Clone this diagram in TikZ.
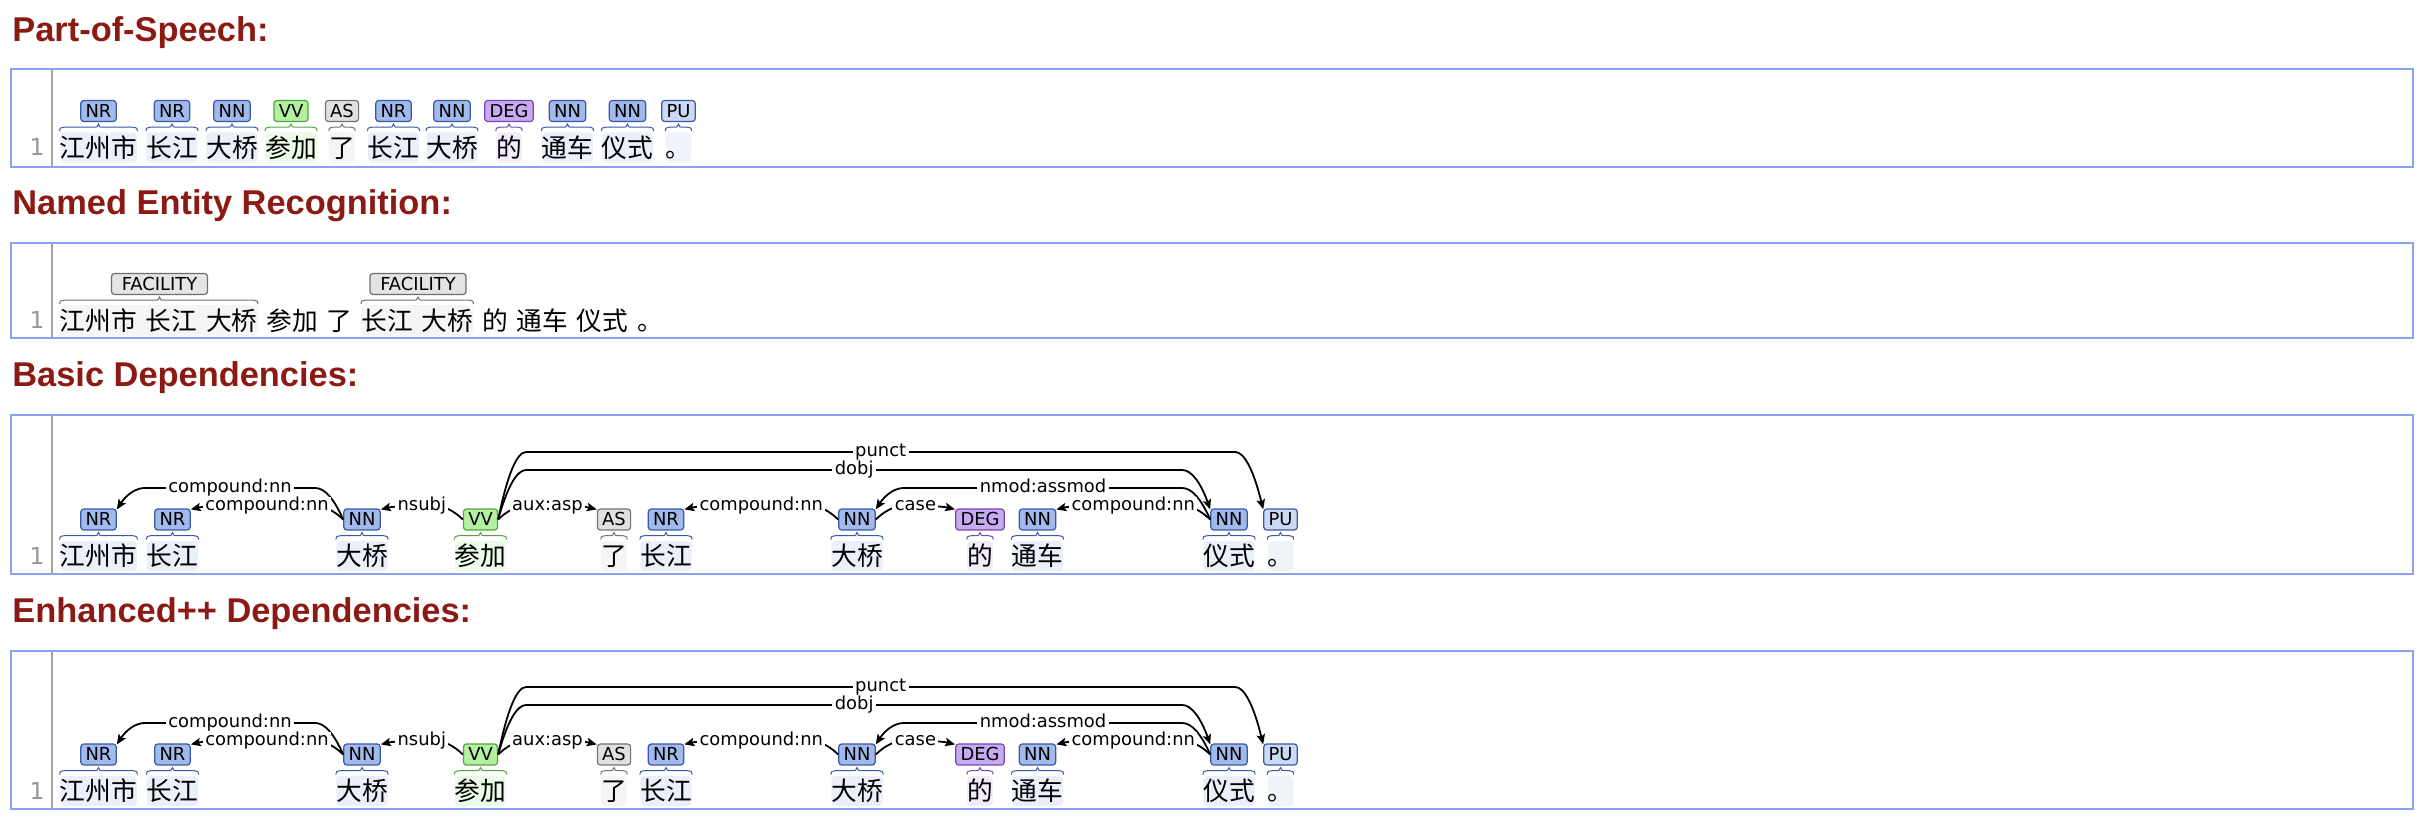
\documentclass[tikz,border=0pt]{standalone}
\usepackage{fontspec}
\usetikzlibrary{calc,arrows.meta,backgrounds}
\newfontfamily\cjkfont{Noto Sans CJK SC}
\newfontfamily\labfont{DejaVu Sans}
\newfontfamily\headfont{Liberation Sans}
\definecolor{titlered}{RGB}{140,26,20}
\definecolor{boxblue}{RGB}{138,163,240}
\definecolor{sepgray}{RGB}{165,165,165}
\definecolor{numgray}{RGB}{150,150,150}
\definecolor{nnF}{RGB}{162,185,235}
\definecolor{nnD}{RGB}{58,88,168}
\definecolor{nnB}{RGB}{234,239,250}
\definecolor{puF}{RGB}{204,217,245}
\definecolor{puD}{RGB}{58,88,168}
\definecolor{puB}{RGB}{239,243,250}
\definecolor{vvF}{RGB}{180,240,160}
\definecolor{vvD}{RGB}{80,165,60}
\definecolor{vvB}{RGB}{236,250,232}
\definecolor{asF}{RGB}{224,224,224}
\definecolor{asD}{RGB}{115,115,115}
\definecolor{asB}{RGB}{245,245,245}
\definecolor{degF}{RGB}{200,170,240}
\definecolor{degD}{RGB}{120,70,180}
\definecolor{degB}{RGB}{242,236,250}
\definecolor{entF}{RGB}{228,228,228}
\definecolor{entD}{RGB}{110,110,110}
\definecolor{entB}{RGB}{245,245,245}

\tikzset{
  tagbox/.style={draw=#1D, fill=#1F, rounded corners=1.5pt, line width=0.6pt,
    font=\labfont\fontsize{8.95}{10}\selectfont, text=black,
    inner xsep=2.4pt, inner ysep=0pt, minimum height=10.5pt,
    text height=6.5pt, text depth=0pt},
  wordbox/.style={fill=#1B, rounded corners=2pt, inner sep=0pt,
    font=\cjkfont\fontsize{12.85}{14}\selectfont, minimum height=15pt,
    text height=11.3pt, text depth=1.55pt},
  nerword/.style={inner sep=0pt,
    font=\cjkfont\fontsize{12.85}{14}\selectfont, minimum height=15pt,
    text height=11.3pt, text depth=1.55pt},
  deparcline/.style={draw=black, line width=0.9pt,
    -{Stealth[length=5pt,width=4.2pt,inset=1pt]}},
  deplabel/.style={fill=white, font=\labfont\fontsize{8.95}{10}\selectfont,
    inner xsep=1.2pt, inner ysep=0.3pt, anchor=base, yshift=-2.45pt},
  panel/.style={draw=boxblue, line width=1pt},
  sepline/.style={draw=sepgray, line width=1pt},
  linenum/.style={font=\labfont\fontsize{11.7}{12}\selectfont, text=numgray,
    anchor=base east, inner sep=0pt},
  heading/.style={font=\headfont\bfseries\fontsize{17.2}{20}\selectfont,
    text=titlered, anchor=base west, inner sep=0pt},
  bracepath/.style={draw=#1, line width=0.5pt},
}

% curly brace under a tag: #1 tag node, #2 left top point, #3 right top point, #4 colour
\newcommand\brc[4]{%
  \draw[bracepath=#4]
    ($(#2)+(0,-1)$) .. controls ($(#2)+(0,-4)$) .. ($(#2)+(5,-5)$)
    -- ($(#1.south |- #2)+(-5,-5)$) .. controls ($(#1.south |- #2)+(-1,-5)$) .. ($(#1.south)+(0,2)$)
    .. controls ($(#1.south |- #2)+(1,-5)$) .. ($(#1.south |- #2)+(5,-5)$)
    -- ($(#3)+(-5,-5)$) .. controls ($(#3)+(0,-4)$) .. ($(#3)+(0,-1)$);
}
% token: #1 name, #2 x, #3 tag centre y, #4 tag, #5 class, #6 word
\newcommand\tok[6]{%
  \node[tagbox=#5] (#1) at (#2,#3) {#4};
  \node[wordbox=#5] (#1w) at (#2,#3+36.5) {#6};
  \brc{#1}{#1w.north west}{#1w.north east}{#5D}
}
% dependency arc: #1 left tag, #2 right tag, #3 level y, #4 label, #5 arrow side l/r
\newcommand\deparc[5]{%
  \coordinate (lvl) at (0,#3);
  \coordinate (Lc) at ($(#1.east |- lvl)+(28,0)$);
  \coordinate (Lq) at ($(#1.east |- lvl)+(14,0)$);
  \coordinate (Rc) at ($(#2.west |- lvl)+(-28,0)$);
  \coordinate (Rq) at ($(#2.west |- lvl)+(-14,0)$);
  \ifx l#5
    \coordinate (Le) at ($(#1.north east)+(0,1)$);
    \coordinate (Re) at (#2.west);
    \draw[deparcline] (Re) .. controls ($(Re)!0.667!(Rq)$) and ($(Rc)!0.667!(Rq)$) .. (Rc)
      -- (Lc) .. controls ($(Lc)!0.667!(Lq)$) and ($(Le)!0.667!(Lq)$) .. (Le);
  \else
    \coordinate (Le) at (#1.east);
    \coordinate (Re) at ($(#2.north west)+(0,1)$);
    \draw[deparcline] (Le) .. controls ($(Le)!0.667!(Lq)$) and ($(Lc)!0.667!(Lq)$) .. (Lc)
      -- (Rc) .. controls ($(Rc)!0.667!(Rq)$) and ($(Re)!0.667!(Rq)$) .. (Re);
  \fi
  \node[deplabel] at ($(#1.east |- lvl)!0.5!(#2.west |- lvl)$) {#4};
}
% a dependency row of tokens: #1 prefix, #2 tag centre y
\newcommand\deprow[2]{%
  \tok{#11}{98.5}{#2}{NR}{nn}{江州市}
  \tok{#12}{172.5}{#2}{NR}{nn}{长江}
  \tok{#13}{362}{#2}{NN}{nn}{大桥}
  \tok{#14}{480.5}{#2}{VV}{vv}{参加}
  \tok{#15}{614}{#2}{AS}{as}{了}
  \tok{#16}{666}{#2}{NR}{nn}{长江}
  \tok{#17}{857}{#2}{NN}{nn}{大桥}
  \tok{#18}{980}{#2}{DEG}{deg}{的}
  \tok{#19}{1037.5}{#2}{NN}{nn}{通车}
  \tok{#110}{1229}{#2}{NN}{nn}{仪式}
  \tok{#111}{1280.5}{#2}{PU}{pu}{。}
}
% the arcs of a dependency row: #1 prefix, #2 vertical offset
\newcommand\depset[2]{%
  \deparc{#11}{#13}{488+#2}{compound:nn}{l}
  \deparc{#12}{#13}{506+#2}{compound:nn}{l}
  \deparc{#13}{#14}{506+#2}{nsubj}{l}
  \deparc{#14}{#15}{506+#2}{aux:asp}{r}
  \deparc{#14}{#111}{452+#2}{punct}{r}
  \deparc{#14}{#110}{470+#2}{dobj}{r}
  \deparc{#16}{#17}{506+#2}{compound:nn}{l}
  \deparc{#17}{#18}{506+#2}{case}{r}
  \deparc{#17}{#110}{488+#2}{nmod:assmod}{l}
  \deparc{#19}{#110}{506+#2}{compound:nn}{l}
}

\begin{document}
\begin{tikzpicture}[x=0.5pt,y=-0.5pt]
\useasboundingbox (0,0) rectangle (2426,822);

% headings
\node[heading] (h1) at (12,42) {Part-of-Speech:};
\node[heading] (h2) at (12,215) {Named Entity Recognition:};
\node[heading] (h3) at (12,387) {Basic Dependencies:};
\node[heading] (h4) at (12,623) {Enhanced++ Dependencies:};

% panels
\draw[panel] (11,69) rectangle (2413,167);
\draw[sepline] (52,69) -- (52,167);
\draw[panel] (11,243) rectangle (2413,338);
\draw[sepline] (52,243) -- (52,338);
\draw[panel] (11,415) rectangle (2413,574);
\draw[sepline] (52,415) -- (52,574);
\draw[panel] (11,651) rectangle (2413,809);
\draw[sepline] (52,651) -- (52,809);

% line numbers
\node[linenum] (ln1) at (45,156) {1};
\node[linenum] (ln2) at (45,329) {1};
\node[linenum] (ln3) at (45,565) {1};
\node[linenum] (ln4) at (45,799.5) {1};

% ---- Part-of-Speech row
\tok{p1}{98.5}{111}{NR}{nn}{江州市}
\tok{p2}{172}{111}{NR}{nn}{长江}
\tok{p3}{232}{111}{NN}{nn}{大桥}
\tok{p4}{291}{111}{VV}{vv}{参加}
\tok{p5}{342}{111}{AS}{as}{了}
\tok{p6}{393.5}{111}{NR}{nn}{长江}
\tok{p7}{452}{111}{NN}{nn}{大桥}
\tok{p8}{509}{111}{DEG}{deg}{的}
\tok{p9}{567.5}{111}{NN}{nn}{通车}
\tok{p10}{627.5}{111}{NN}{nn}{仪式}
\tok{p11}{678.5}{111}{PU}{pu}{。}

% ---- Named entity row
\node[nerword] (n1) at (98.5,320.5) {江州市};
\node[nerword] (n2) at (171.6,320.5) {长江};
\node[nerword] (n3) at (231.9,320.5) {大桥};
\node[nerword] (n4) at (292.2,320.5) {参加};
\node[nerword] (n5) at (339.65,320.5) {了};
\node[nerword] (n6) at (387.1,320.5) {长江};
\node[nerword] (n7) at (447.4,320.5) {大桥};
\node[nerword] (n8) at (494.85,320.5) {的};
\node[nerword] (n9) at (542.3,320.5) {通车};
\node[nerword] (n10) at (602.6,320.5) {仪式};
\node[nerword] (n11) at (650.05,320.5) {。};
\begin{pgfonlayer}{background}
  \fill[entB, rounded corners=2pt] (n1.north west) rectangle (n3.south east);
  \fill[entB, rounded corners=2pt] (n6.north west) rectangle (n7.south east);
\end{pgfonlayer}
\node[tagbox=ent, minimum width=48pt] (f1) at (159.5,284) {FACILITY};
\node[tagbox=ent, minimum width=48pt] (f2) at (418,284) {FACILITY};
\brc{f1}{n1.north west}{n3.north east}{entD}
\brc{f2}{n6.north west}{n7.north east}{entD}

% ---- Basic dependencies
\deprow{b}{519.5}
\depset{b}{0}

% ---- Enhanced++ dependencies
\deprow{e}{754.5}
\depset{e}{235}

\end{tikzpicture}
\end{document}
